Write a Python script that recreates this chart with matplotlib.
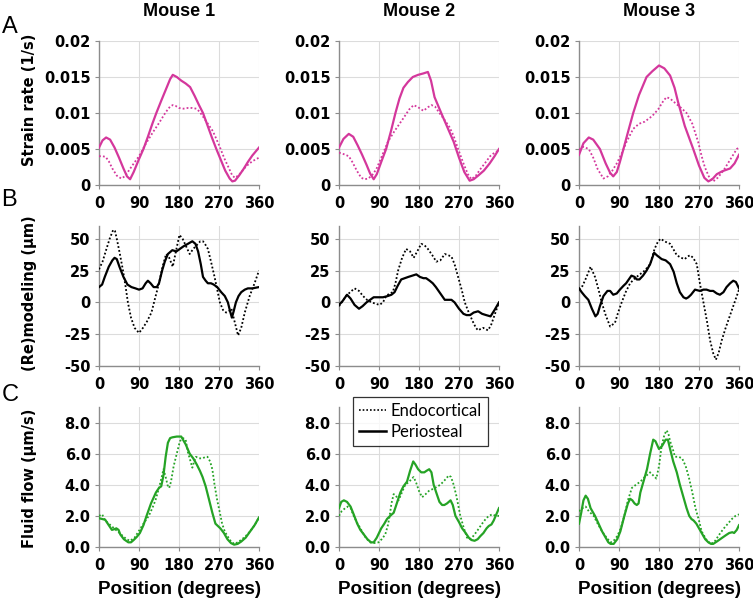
import numpy as np
from matplotlib import pyplot as plt
from matplotlib.lines import Line2D

plt.rcParams['font.family'] = ['DejaVu Sans']

pink = '#D4379C'
green = '#25A325'

# ---- A: strain rate (1/s) ----
a1_peri_x = [0, 8, 16, 25, 35, 45, 55, 63, 70, 78, 90, 100, 110, 120, 129, 140, 150, 160, 166, 175, 185, 195, 205, 215, 225, 234, 244, 254, 264, 274, 284, 294, 300, 306, 315, 325, 335, 345, 360]
a1_peri_y = [0.0052, 0.0062, 0.0066, 0.0063, 0.0052, 0.0038, 0.0023, 0.0012, 0.0008, 0.0018, 0.0036, 0.0050, 0.0067, 0.0085, 0.0100, 0.0117, 0.0132, 0.0147, 0.0153, 0.0150, 0.0145, 0.0141, 0.0136, 0.0124, 0.0111, 0.0100, 0.0083, 0.0066, 0.0050, 0.0035, 0.0020, 0.0009, 0.0005, 0.0006, 0.0013, 0.0022, 0.0032, 0.0041, 0.0052]
a1_endo_x = [0, 8, 15, 22, 30, 40, 50, 58, 66, 76, 90, 106, 120, 136, 150, 160, 166, 172, 180, 190, 200, 210, 219, 226, 234, 245, 256, 264, 271, 282, 294, 300, 306, 315, 331, 345, 360]
a1_endo_y = [0.0040, 0.0040, 0.0039, 0.0033, 0.0023, 0.0013, 0.0009, 0.0012, 0.0019, 0.0028, 0.0040, 0.0058, 0.0072, 0.0087, 0.0101, 0.0109, 0.0111, 0.0110, 0.0107, 0.0106, 0.0107, 0.0107, 0.0106, 0.0102, 0.0095, 0.0085, 0.0075, 0.0064, 0.0054, 0.0037, 0.0021, 0.0013, 0.0010, 0.0014, 0.0026, 0.0033, 0.0038]

a2_peri_x = [0, 10, 22, 32, 42, 52, 62, 70, 78, 85, 95, 106, 117, 127, 136, 145, 155, 166, 178, 190, 200, 207, 215, 230, 244, 258, 270, 282, 294, 303, 313, 326, 339, 350, 360]
a2_peri_y = [0.0052, 0.0064, 0.0071, 0.0067, 0.0055, 0.0042, 0.0028, 0.0016, 0.0008, 0.0015, 0.0032, 0.0050, 0.0075, 0.0100, 0.0120, 0.0135, 0.0143, 0.0150, 0.0153, 0.0155, 0.0157, 0.0145, 0.0122, 0.0100, 0.0080, 0.0060, 0.0038, 0.0018, 0.0006, 0.0008, 0.0013, 0.0020, 0.0030, 0.0040, 0.0050]
a2_endo_x = [0, 10, 22, 30, 40, 50, 58, 66, 75, 84, 95, 110, 125, 144, 158, 168, 178, 190, 200, 208, 216, 226, 238, 249, 258, 268, 280, 290, 298, 308, 318, 328, 340, 350, 360]
a2_endo_y = [0.0045, 0.0043, 0.0040, 0.0032, 0.0020, 0.0010, 0.0008, 0.0009, 0.0014, 0.0022, 0.0038, 0.0060, 0.0075, 0.0092, 0.0105, 0.0111, 0.0108, 0.0103, 0.0108, 0.0111, 0.0109, 0.0100, 0.0090, 0.0080, 0.0068, 0.0050, 0.0030, 0.0015, 0.0008, 0.0013, 0.0022, 0.0030, 0.0040, 0.0045, 0.0048]

a3_peri_x = [0, 10, 22, 32, 47, 60, 70, 77, 85, 92, 100, 110, 122, 135, 152, 165, 180, 192, 205, 215, 223, 238, 257, 270, 282, 291, 300, 310, 322, 340, 350, 360]
a3_peri_y = [0.0042, 0.0058, 0.0066, 0.0063, 0.0050, 0.0030, 0.0017, 0.0012, 0.0018, 0.0032, 0.0050, 0.0073, 0.0100, 0.0125, 0.0150, 0.0158, 0.0166, 0.0162, 0.0152, 0.0135, 0.0115, 0.0082, 0.0050, 0.0027, 0.0010, 0.0005, 0.0008, 0.0015, 0.0019, 0.0023, 0.0030, 0.0042]
a3_endo_x = [0, 10, 22, 32, 42, 55, 65, 75, 85, 97, 107, 122, 135, 148, 165, 178, 190, 197, 205, 220, 230, 242, 255, 268, 276, 283, 292, 302, 312, 325, 340, 355, 360]
a3_endo_y = [0.0049, 0.0053, 0.0050, 0.0038, 0.0022, 0.0009, 0.0012, 0.0020, 0.0030, 0.0045, 0.0060, 0.0078, 0.0085, 0.0088, 0.0096, 0.0105, 0.0117, 0.0122, 0.0120, 0.0112, 0.0107, 0.0100, 0.0085, 0.0060, 0.0040, 0.0025, 0.0012, 0.0005, 0.0010, 0.0020, 0.0035, 0.0050, 0.0052]

# ---- B: (re)modeling (um) ----
b1_peri_x = [0, 7, 13, 22, 30, 35, 40, 46, 55, 64, 73, 82, 90, 98, 105, 110, 116, 123, 130, 135, 142, 148, 155, 165, 174, 182, 190, 200, 210, 217, 223, 229, 234, 240, 245, 252, 258, 266, 275, 283, 290, 295, 299, 303, 308, 314, 320, 328, 335, 345, 360]
b1_peri_y = [12, 14, 20, 28, 33, 35, 34, 28, 20, 14, 12, 11, 10, 11, 15, 17, 15, 12, 12, 15, 25, 32, 38, 41, 40, 42, 44, 46, 48, 46, 40, 30, 20, 17, 15, 15, 14, 12, 8, 5, 0, -7, -12, -7, 0, 5, 8, 10, 11, 11, 12]
b1_endo_x = [0, 8, 15, 24, 32, 36, 40, 47, 54, 60, 65, 72, 80, 90, 99, 108, 118, 126, 135, 143, 151, 158, 166, 173, 181, 188, 196, 204, 212, 220, 228, 234, 240, 245, 252, 260, 266, 272, 279, 286, 292, 298, 305, 313, 320, 328, 339, 350, 360]
b1_endo_y = [26, 32, 40, 50, 57, 56, 50, 38, 25, 12, 0, -12, -20, -24, -20, -15, -8, 3, 15, 28, 38, 35, 28, 40, 53, 50, 44, 38, 42, 45, 48, 48, 45, 42, 32, 20, 10, 0, -6, -8, -7, -5, -15, -26, -20, -8, 5, 15, 25]

b2_peri_x = [0, 8, 18, 26, 35, 45, 53, 62, 70, 78, 88, 99, 110, 118, 125, 132, 140, 148, 156, 165, 174, 182, 190, 196, 204, 211, 218, 226, 232, 238, 245, 253, 260, 270, 280, 287, 295, 303, 313, 322, 331, 341, 350, 360]
b2_peri_y = [-2, 1, 6, 3, -2, -5, -3, 0, 2, 4, 4, 4, 5, 6, 8, 13, 18, 19, 20, 21, 22, 20, 19, 19, 17, 15, 12, 8, 5, 2, 2, 2, 0, -5, -9, -10, -10, -8, -7, -9, -10, -11, -6, 0]
b2_endo_x = [0, 8, 16, 25, 35, 45, 54, 63, 73, 82, 91, 99, 106, 114, 121, 127, 133, 142, 151, 160, 168, 176, 185, 192, 200, 210, 219, 228, 238, 246, 253, 260, 268, 276, 283, 292, 301, 308, 313, 318, 324, 330, 335, 342, 350, 360]
b2_endo_y = [-3, 1, 5, 8, 11, 9, 5, 2, 0, -1, -2, 0, 5, 7, 8, 15, 25, 35, 42, 40, 35, 40, 46, 45, 42, 37, 32, 33, 38, 37, 36, 30, 20, 10, 0, -8, -15, -20, -22, -21, -20, -21, -22, -18, -10, 0]

b3_peri_x = [0, 6, 13, 21, 29, 37, 42, 47, 55, 64, 70, 77, 85, 92, 100, 106, 112, 118, 125, 130, 136, 144, 152, 160, 169, 175, 186, 195, 205, 213, 220, 227, 235, 241, 246, 252, 261, 272, 280, 287, 295, 302, 310, 317, 325, 332, 340, 347, 353, 360]
b3_peri_y = [11, 8, 5, 2, -5, -11, -9, -3, 5, 9, 9, 6, 7, 10, 13, 15, 18, 21, 20, 18, 18, 21, 25, 30, 39, 37, 34, 33, 30, 24, 15, 8, 4, 3, 4, 6, 10, 9, 10, 10, 9, 9, 7, 6, 8, 12, 15, 17, 16, 11]
b3_endo_x = [0, 8, 17, 26, 36, 44, 51, 60, 70, 81, 88, 96, 105, 115, 126, 137, 148, 160, 170, 178, 184, 192, 205, 212, 220, 230, 238, 244, 250, 257, 265, 272, 280, 288, 295, 302, 308, 314, 321, 330, 340, 350, 360]
b3_endo_y = [10, 13, 20, 28, 20, 10, 0, -10, -19, -16, -8, 0, 8, 15, 19, 22, 25, 30, 42, 48, 50, 48, 46, 42, 37, 35, 34, 36, 37, 35, 30, 15, 0, -15, -30, -40, -45, -40, -30, -20, -10, 0, 10]

# ---- C: fluid flow (um/s) ----
c1_peri_x = [0, 7, 14, 22, 29, 35, 39, 44, 48, 56, 66, 72, 78, 85, 92, 100, 107, 117, 128, 135, 140, 145, 150, 155, 160, 165, 175, 185, 195, 204, 212, 220, 227, 233, 240, 248, 255, 262, 273, 281, 289, 297, 304, 312, 320, 330, 340, 350, 360]
c1_peri_y = [1.85, 1.8, 1.75, 1.4, 1.1, 1.15, 1.2, 1.1, 0.8, 0.5, 0.3, 0.3, 0.45, 0.65, 0.9, 1.4, 2.0, 2.8, 3.5, 3.8, 3.9, 4.6, 5.8, 6.7, 7.0, 7.05, 7.1, 7.1, 6.6, 6.0, 5.7, 5.3, 4.9, 4.5, 3.9, 3.0, 2.2, 1.5, 1.2, 0.9, 0.5, 0.25, 0.15, 0.2, 0.35, 0.6, 1.0, 1.4, 1.9]
c1_endo_x = [0, 7, 14, 22, 30, 38, 46, 54, 62, 70, 80, 89, 100, 112, 120, 127, 135, 142, 145, 150, 155, 158, 162, 168, 175, 182, 189, 195, 200, 205, 210, 214, 218, 225, 233, 240, 244, 250, 255, 260, 266, 272, 277, 283, 289, 296, 304, 312, 322, 330, 340, 350, 360]
c1_endo_y = [2.0, 2.1, 1.7, 1.5, 1.3, 1.1, 0.9, 0.7, 0.5, 0.4, 0.6, 1.0, 1.5, 2.0, 2.5, 3.0, 3.8, 4.6, 5.0, 4.5, 3.9, 3.8, 4.2, 5.2, 6.0, 6.8, 7.0, 6.9, 6.1, 5.6, 5.1, 5.5, 5.8, 5.7, 5.7, 5.8, 5.8, 5.5, 5.0, 4.0, 3.0, 2.2, 1.5, 1.0, 0.7, 0.4, 0.2, 0.3, 0.5, 0.7, 1.0, 1.4, 1.9]

c2_peri_x = [0, 5, 11, 18, 26, 33, 41, 48, 56, 64, 72, 78, 85, 95, 102, 108, 115, 123, 130, 138, 145, 153, 160, 167, 172, 178, 185, 192, 197, 203, 208, 213, 220, 226, 232, 237, 243, 251, 256, 262, 270, 277, 285, 292, 298, 305, 312, 318, 325, 332, 337, 343, 348, 354, 360]
c2_peri_y = [2.5, 2.9, 3.0, 2.9, 2.6, 2.1, 1.5, 1.1, 0.8, 0.5, 0.3, 0.3, 0.6, 1.2, 1.5, 1.8, 2.0, 2.2, 2.8, 3.5, 3.9, 4.2, 4.9, 5.5, 5.3, 5.0, 4.8, 4.8, 4.9, 5.0, 4.8, 4.0, 3.4, 2.9, 2.7, 2.7, 2.8, 3.0, 2.7, 2.0, 1.6, 1.2, 0.9, 0.6, 0.45, 0.4, 0.5, 0.7, 0.9, 1.2, 1.35, 1.45, 1.7, 2.1, 2.5]
c2_endo_x = [0, 6, 14, 20, 26, 33, 40, 46, 52, 60, 70, 78, 89, 96, 104, 110, 114, 118, 123, 128, 134, 140, 149, 158, 164, 168, 174, 180, 187, 195, 202, 209, 216, 228, 238, 247, 252, 258, 264, 273, 280, 288, 295, 302, 310, 322, 330, 337, 345, 353, 360]
c2_endo_y = [2.0, 2.3, 2.5, 2.6, 2.5, 2.0, 1.6, 1.3, 1.0, 0.6, 0.3, 0.25, 0.3, 0.5, 0.8, 1.4, 2.0, 2.8, 3.4, 3.3, 3.0, 3.4, 4.0, 4.2, 4.4, 4.5, 4.1, 3.6, 3.2, 3.4, 3.6, 3.7, 3.8, 4.0, 4.3, 4.6, 4.5, 4.0, 3.3, 2.0, 1.3, 0.6, 0.5, 0.7, 1.0, 1.5, 1.8, 2.0, 2.1, 2.0, 2.0]

c3_peri_x = [0, 5, 10, 15, 20, 26, 36, 44, 52, 60, 66, 71, 78, 86, 93, 102, 110, 115, 120, 125, 130, 134, 138, 145, 153, 160, 167, 172, 180, 187, 195, 200, 205, 212, 220, 227, 235, 242, 248, 253, 258, 264, 270, 276, 284, 291, 297, 302, 310, 320, 330, 338, 345, 349, 355, 360]
c3_peri_y = [1.5, 2.2, 3.0, 3.3, 3.1, 2.5, 2.0, 1.5, 1.0, 0.6, 0.3, 0.2, 0.2, 0.5, 1.0, 2.0, 2.8, 3.1, 3.0, 2.8, 2.7, 2.8, 3.5, 4.2, 5.0, 6.0, 6.9, 6.8, 6.3, 6.5, 6.9, 6.9, 6.3, 5.5, 4.8, 4.0, 3.2, 2.5, 2.0, 1.8, 1.7, 1.5, 1.2, 0.9, 0.5, 0.3, 0.2, 0.2, 0.35, 0.55, 0.75, 0.9, 0.95, 0.9, 1.1, 1.4]
c3_endo_x = [0, 8, 15, 22, 33, 42, 52, 62, 71, 78, 86, 94, 102, 110, 119, 128, 138, 148, 160, 167, 174, 180, 186, 192, 197, 201, 205, 211, 216, 224, 232, 240, 247, 255, 262, 270, 276, 286, 296, 304, 311, 318, 326, 335, 344, 352, 360]
c3_endo_y = [2.3, 2.5, 2.6, 2.3, 2.0, 1.5, 1.0, 0.6, 0.3, 0.4, 0.7, 1.2, 2.0, 3.0, 3.8, 4.0, 4.2, 4.5, 4.8, 4.6, 4.4, 5.2, 6.5, 7.2, 7.5, 7.3, 6.8, 6.3, 5.8, 5.8, 5.7, 5.2, 4.5, 3.5, 2.5, 1.7, 1.0, 0.5, 0.2, 0.3, 0.6, 0.9, 1.2, 1.5, 1.8, 2.0, 2.1]

mice = ['Mouse 1', 'Mouse 2', 'Mouse 3']
x_ticks = [0, 90, 180, 270, 360]
a_ticks = [0, 0.005, 0.01, 0.015, 0.02]
a_labels = ['0', '0.005', '0.01', '0.015', '0.02']
b_ticks = [-50, -25, 0, 25, 50]
c_ticks = [0, 2, 4, 6, 8]
c_labels = ['0.0', '2.0', '4.0', '6.0', '8.0']


def draw_panel(ax, xs, ys, xd, yd, color, ylim, yticks, ylabels):
    ax.plot(xd, yd, color=color, lw=1.3, ls=(0, (1, 1.2)), zorder=3)
    ax.plot(xs, ys, color=color, lw=1.6, zorder=4)
    ax.set_xlim(0, 360)
    ax.set_ylim(*ylim)
    ax.set_xticks(x_ticks)
    ax.set_yticks(yticks)
    ax.set_yticklabels(ylabels)
    ax.grid(True, color='#DCDCDC', lw=0.8)
    ax.set_axisbelow(True)
    for s in ['top', 'right']:
        ax.spines[s].set_visible(False)
    for s in ['left', 'bottom']:
        ax.spines[s].set_color('#8C8C8C')
        ax.spines[s].set_linewidth(1.0)
    ax.tick_params(direction='out', length=3, width=0.8, color='#8C8C8C',
                   labelsize=10.5, pad=3)
    ax.tick_params(axis='x', pad=5)
    for t in ax.get_xticklabels() + ax.get_yticklabels():
        t.set_fontweight('bold')


fig = plt.figure(figsize=(7.53, 5.99), dpi=100)
W, H = 753.0, 599.0
lefts = [99, 339, 579]
rows = [(41, 185), (226, 366), (407, 547)]

strain = [(a1_peri_x, a1_peri_y, a1_endo_x, a1_endo_y),
          (a2_peri_x, a2_peri_y, a2_endo_x, a2_endo_y),
          (a3_peri_x, a3_peri_y, a3_endo_x, a3_endo_y)]
remod = [(b1_peri_x, b1_peri_y, b1_endo_x, b1_endo_y),
         (b2_peri_x, b2_peri_y, b2_endo_x, b2_endo_y),
         (b3_peri_x, b3_peri_y, b3_endo_x, b3_endo_y)]
flow = [(c1_peri_x, c1_peri_y, c1_endo_x, c1_endo_y),
        (c2_peri_x, c2_peri_y, c2_endo_x, c2_endo_y),
        (c3_peri_x, c3_peri_y, c3_endo_x, c3_endo_y)]

axes = []
for r, (top, bot) in enumerate(rows):
    row_axes = []
    for c, l in enumerate(lefts):
        ax = fig.add_axes([l / W, 1 - bot / H, 160 / W, (bot - top) / H])
        row_axes.append(ax)
    axes.append(row_axes)

for c in range(3):
    draw_panel(axes[0][c], *strain[c], pink, (0, 0.02), a_ticks, a_labels)
    draw_panel(axes[1][c], *remod[c], 'black', (-50, 60), b_ticks, [str(v) for v in b_ticks])
    draw_panel(axes[2][c], *flow[c], green, (0, 9), c_ticks, c_labels)
    axes[0][c].set_title(mice[c], fontsize=13, fontweight='bold', pad=18,
                         family='Liberation Sans')
    axes[2][c].set_xlabel('Position (degrees)', fontsize=13.5, fontweight='bold',
                          labelpad=6, family='Liberation Sans')

ylabs = ['Strain rate (1/s)', '(Re)modeling (µm)', 'Fluid flow (µm/s)']
ylab_pos = [0.59, 0.52, 0.49]
for r in range(3):
    axes[r][0].set_ylabel(ylabs[r], fontsize=10.5, fontweight='bold')
    axes[r][0].yaxis.set_label_coords(-0.39, ylab_pos[r])

# panel letters
fig.text(2 / W, 1 - 27 / H, 'A', fontsize=17, va='center', ha='left', family='Liberation Sans')
fig.text(1 / W, 1 - 200 / H, 'B', fontsize=17, va='center', ha='left', family='Liberation Sans')
fig.text(2 / W, 1 - 395 / H, 'C', fontsize=17, va='center', ha='left', family='Liberation Sans')

# legend
handles = [Line2D([], [], color='black', lw=1.2, ls=(0, (1, 1.2))),
           Line2D([], [], color='black', lw=1.8)]
leg = fig.legend(handles, ['Endocortical', 'Periosteal'],
                 loc='upper left', bbox_to_anchor=(353 / W, 1 - 397 / H),
                 prop={'family': ['Lato', 'DejaVu Sans'], 'size': 12},
                 frameon=True, fancybox=False, edgecolor='black',
                 handlelength=1.6, handletextpad=0.3, borderpad=0.35,
                 labelspacing=0.3, borderaxespad=0)
leg.get_frame().set_linewidth(0.9)

plt.savefig('out.png', dpi=100, facecolor='white')
